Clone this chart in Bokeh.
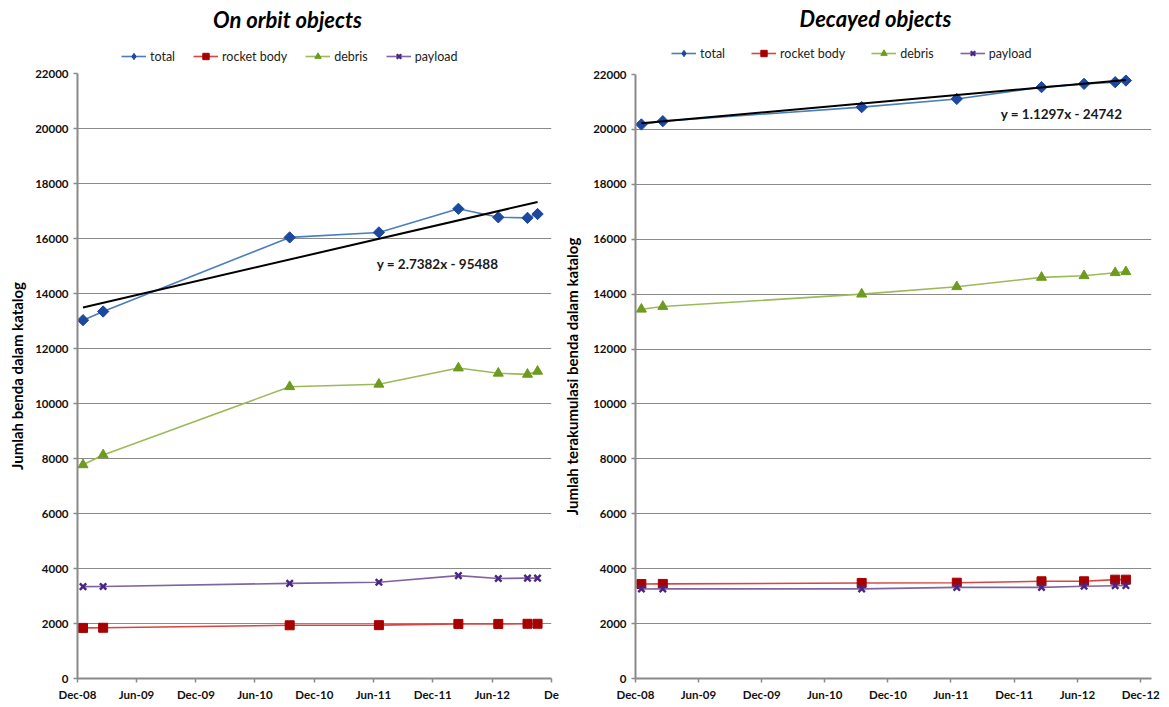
import math
import pandas as pd
from bokeh.plotting import figure
from bokeh.models import Range1d, FixedTicker, Label, Legend, LegendItem
from bokeh.layouts import row, column
from bokeh.embed import file_html
from bokeh.resources import INLINE

# ---------------- data ----------------
dates = ["2008-12-18", "2009-02-18", "2010-09-16", "2011-06-18",
         "2012-02-18", "2012-06-20", "2012-09-18", "2012-10-19"]
series_names = ["total", "rocket body", "debris", "payload"]

orbit_total = [13030, 13345, 16040, 16220, 17080, 16770, 16750, 16890]
orbit_rocket = [1840, 1845, 1935, 1940, 1985, 1985, 1990, 1990]
orbit_debris = [7770, 8130, 10610, 10700, 11290, 11100, 11060, 11170]
orbit_payload = [3340, 3345, 3460, 3500, 3740, 3635, 3650, 3650]

decay_total = [20180, 20300, 20810, 21110, 21540, 21660, 21720, 21780]
decay_rocket = [3440, 3445, 3480, 3490, 3540, 3540, 3600, 3600]
decay_debris = [13450, 13550, 14000, 14270, 14610, 14670, 14780, 14815]
decay_payload = [3260, 3265, 3265, 3320, 3320, 3360, 3380, 3385]

orbit_trend = (2.7382, -95488)
decay_trend = (1.1297, -24742)
orbit_trend_text = "y = 2.7382x - 95488"
decay_trend_text = "y = 1.1297x - 24742"

titles = ["On orbit objects", "Decayed objects"]
y_labels = ["Jumlah benda dalam katalog", "Jumlah terakumulasi benda dalam katalog"]

tick_dates = ["2008-12-01", "2009-06-01", "2009-12-01", "2010-06-01", "2010-12-01",
              "2011-06-01", "2011-12-01", "2012-06-01", "2012-12-01"]
tick_labels_left = ["Dec-08", "Jun-09", "Dec-09", "Jun-10", "Dec-10",
                    "Jun-11", "Dec-11", "Jun-12", "De"]
tick_labels_right = ["Dec-08", "Jun-09", "Dec-09", "Jun-10", "Dec-10",
                     "Jun-11", "Dec-11", "Jun-12", "Dec-12"]
y_ticks = [0, 2000, 4000, 6000, 8000, 10000, 12000, 14000, 16000, 18000, 20000, 22000]
x_start_left, x_end_left = "2008-12-01", "2012-12-01"
x_start_right, x_end_right = "2008-12-01", "2013-01-01"

# ---------------- style ----------------
FONT = "Lato"
GRID = "#8a8a8a"
styles = {
    "total": dict(line="#4A7EBB", marker="square", legend_marker="diamond",
                  angle=math.pi / 4, fill="#1C48A0", size=8),
    "rocket body": dict(line="#D9453F", marker="square", legend_marker="square",
                        angle=0, fill="#A80000", size=9),
    "debris": dict(line="#9BBB59", marker="triangle", legend_marker="triangle",
                   angle=0, fill="#6E9A1F", size=10),
    "payload": dict(line="#8064A2", marker="x", legend_marker="x",
                    angle=0, fill="#4A2585", size=9),
}


def to_ms(ds):
    return [float(v) for v in (pd.to_datetime(ds).astype("int64") // 10**6)]


def excel_serial(d):
    return (pd.Timestamp(d) - pd.Timestamp("1899-12-30")).days


def add_series(p, name, xs, ys, for_legend=False):
    st = styles[name]
    marker = st["legend_marker"] if for_legend else st["marker"]
    angle = 0 if for_legend else st["angle"]
    size = st["size"] + (3 if for_legend and marker == "diamond" else 0)
    r_line = p.line(xs, ys, line_color=st["line"], line_width=1.6)
    if marker == "x":
        r_pt = p.scatter(xs, ys, marker="x", size=size, line_color=st["fill"],
                         line_width=2.4)
    else:
        r_pt = p.scatter(xs, ys, marker=marker, size=size, angle=angle,
                         fill_color=st["fill"], line_color=st["fill"])
    return r_line, r_pt


def make_header(width, height, title, series, title_pos, legend_pos, legend_spacing):
    # strip above the plot area holding the title and the legend
    h = figure(width=width, height=height, x_range=Range1d(0, width),
               y_range=Range1d(0, height), x_axis_type=None, y_axis_type=None,
               output_backend="svg", toolbar_location=None, title=None,
               min_border=0)
    h.outline_line_color = None
    h.grid.visible = False
    h.add_layout(Label(x=title_pos[0], y=title_pos[1], x_units="screen", y_units="screen",
                       text=title, text_font=FONT,
                       text_font_style="bold italic", text_font_size="22px",
                       text_align="center", text_baseline="middle", text_color="#000000"))
    xs = pd.to_datetime(dates)
    items = []
    for name, ys in zip(series_names, series):
        # same series, out of this strip's view: used only for the legend swatches
        r_line, r_pt = add_series(h, name, xs, ys, for_legend=True)
        items.append(LegendItem(label=name, renderers=[r_line, r_pt]))
    lg = Legend(items=items, orientation="horizontal", location=legend_pos,
                padding=0, margin=0, spacing=legend_spacing,
                glyph_width=25, glyph_height=16, label_height=16, label_standoff=4,
                label_text_font=FONT, label_text_font_size="12.5px",
                label_text_color="#222222", border_line_color=None,
                background_fill_alpha=0)
    h.add_layout(lg, "center")
    return h


def make_plot(width, height, borders, ylabel, label_standoff, series, trend, trend_text,
              tick_labels, xr, trend_pos):
    left, right, top, bottom = borders
    p = figure(width=width, height=height, x_axis_type="datetime",
               output_backend="svg", toolbar_location=None, title=None,
               min_border_left=left, min_border_right=right,
               min_border_top=top, min_border_bottom=bottom,
               x_range=Range1d(pd.Timestamp(xr[0]), pd.Timestamp(xr[1])),
               y_range=Range1d(0, 22000))
    p.outline_line_color = None
    p.background_fill_color = "white"
    p.border_fill_color = "white"

    xs = pd.to_datetime(dates)
    for name, ys in zip(series_names, series):
        add_series(p, name, xs, ys)

    # linear trend line (Excel-style, x = serial date number)
    slope, intercept = trend
    tx = [dates[0], dates[-1]]
    ty = [slope * excel_serial(d) + intercept for d in tx]
    p.line(pd.to_datetime(tx), ty, line_color="black", line_width=2)

    # axes
    tick_ms = to_ms(tick_dates)
    p.xaxis.ticker = FixedTicker(ticks=tick_ms)
    p.xaxis.major_label_overrides = {t: l for t, l in zip(tick_ms, tick_labels)}
    p.yaxis.ticker = FixedTicker(ticks=y_ticks)
    p.ygrid.ticker = FixedTicker(ticks=y_ticks)
    p.xgrid.visible = False
    p.ygrid.grid_line_color = GRID
    p.ygrid.grid_line_width = 1.2
    for ax in (p.xaxis, p.yaxis):
        ax.axis_line_color = GRID
        ax.axis_line_width = 2
        ax.major_tick_line_color = GRID
        ax.major_tick_line_width = 1.5
        ax.major_tick_in = 0
        ax.major_tick_out = 4
        ax.minor_tick_line_color = None
        ax.major_label_text_font = FONT
        ax.major_label_text_font_style = "bold"
        ax.major_label_text_font_size = "11.5px"
        ax.major_label_text_color = "#111111"
    p.xaxis.major_label_standoff = 5
    p.yaxis.major_label_standoff = 5
    p.yaxis.axis_label = ylabel
    p.yaxis.axis_label_text_font = FONT
    p.yaxis.axis_label_text_font_style = "bold"
    p.yaxis.axis_label_text_font_size = "15px"
    p.yaxis.axis_label_text_color = "#000000"
    p.yaxis.axis_label_standoff = label_standoff

    # trend equation
    p.add_layout(Label(x=trend_pos[0], y=trend_pos[1], x_units="screen", y_units="screen",
                       text=trend_text, text_font=FONT, text_font_style="bold",
                       text_font_size="13.5px", text_align="center", text_baseline="middle",
                       text_color="#1a1a1a"))
    return p


orbit_series = [orbit_total, orbit_rocket, orbit_debris, orbit_payload]
decay_series = [decay_total, decay_rocket, decay_debris, decay_payload]

h1 = make_header(560, 65, titles[0], orbit_series, (210, 46), (44, 1), 18)
p1 = make_plot(560, 640, (77, 9, 8, 27), y_labels[0], 6, orbit_series,
               orbit_trend, orbit_trend_text, tick_labels_left,
               (x_start_left, x_end_left), (360, 415))
h2 = make_header(608, 66, titles[1], decay_series, (240, 48), (36, 5), 26)
p2 = make_plot(608, 639, (73, 17, 8, 27), y_labels[1], 9, decay_series,
               decay_trend, decay_trend_text, tick_labels_right,
               (x_start_right, x_end_right), (426, 565))

layout = row(column(h1, p1), column(h2, p2))
open("out.html", "w").write(file_html(layout, INLINE))
